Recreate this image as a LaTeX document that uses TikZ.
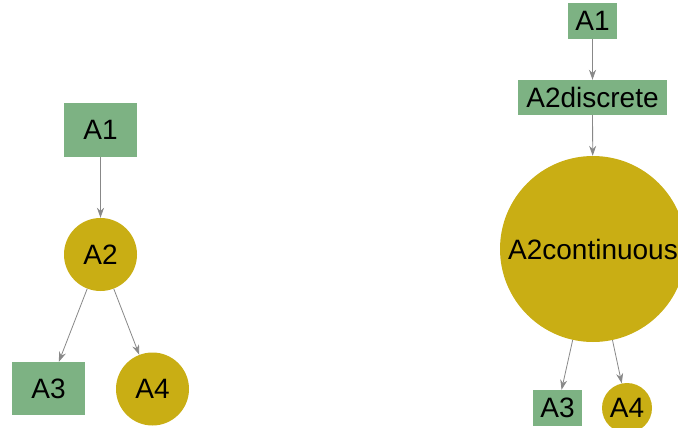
\documentclass[tikz,border=0pt]{standalone}
\usepackage{fontspec}
\setmainfont{Liberation Sans}
\usetikzlibrary{arrows.meta}
\definecolor{boxgreen}{HTML}{7DB283}
\definecolor{gold}{HTML}{C9AE14}
\definecolor{edgegray}{HTML}{888888}
\tikzset{
  sq/.style={rectangle, fill=boxgreen, inner sep=0pt, font=\fontsize{28}{30}\selectfont},
  circ/.style={circle, fill=gold, inner sep=0pt, font=\fontsize{28}{30}\selectfont},
  link/.style={draw=edgegray, line width=0.8pt, -{Stealth[length=10pt,width=7pt]}}
}
\begin{document}
\begin{tikzpicture}[x=1pt,y=-1pt]
\useasboundingbox (0,0) rectangle (678,428);
\clip (0,0) rectangle (678,428);
% left graph
\node[sq, minimum width=73pt, minimum height=54pt] (L1) at (100.5,130) {A1};
\node[circ, minimum size=73pt] (L2) at (100.5,254.5) {A2};
\node[sq, minimum width=73pt, minimum height=53pt] (L3) at (48.5,388.5) {A3};
\node[circ, minimum size=73pt] (L4) at (152.5,389) {A4};
\draw[link] (L1) -- (L2);
\draw[link] (L2) -- (L3);
\draw[link] (L2) -- (L4);
% right graph
\node[sq, minimum width=49pt, minimum height=36pt] (R1) at (592.5,21) {A1};
\node[sq, minimum width=149pt, minimum height=35pt] (R2) at (592.5,97.5) {A2discrete};
\node[circ, minimum size=186pt] (R3) at (593,249) {A2continuous};
\node[sq, minimum width=49pt, minimum height=36pt] (R4) at (557.5,408) {A3};
\node[circ, minimum size=50pt] (R5) at (627,408) {A4};
\draw[link] (R1) -- (R2);
\draw[link] (R2) -- (R3);
\draw[link] (R3) -- (R4);
\draw[link] (R3) -- (R5);
\end{tikzpicture}
\end{document}
